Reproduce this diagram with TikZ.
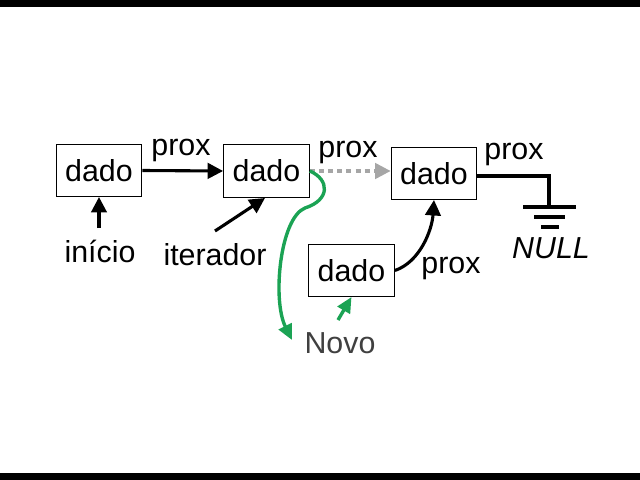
\documentclass[tikz,border=0pt]{standalone}
\usepackage{fontspec}
\setmainfont{Liberation Sans}
\usetikzlibrary{arrows.meta,positioning}
\definecolor{novogreen}{HTML}{1BA354}
\definecolor{linkgray}{HTML}{A6A6A6}
\definecolor{novotext}{HTML}{404040}
\tikzset{
  cell/.style   ={draw=black, line width=0.7pt, fill=white, minimum width=61pt,
                  minimum height=37pt, inner sep=0pt, font=\fontsize{21.6}{26}\selectfont},
  lbl/.style    ={font=\fontsize{21.6}{26}\selectfont, inner sep=0pt},
  lnk/.style    ={draw=black, line width=2.2pt, -{Triangle[length=11pt,width=11pt]}},
  dotlnk/.style ={draw=linkgray, line width=2.2pt, dash pattern=on 3.5pt off 3pt,
                  -{Triangle[length=11pt,width=11pt]}},
  newlnk/.style ={draw=novogreen, line width=2.4pt, -{Triangle[length=11pt,width=10pt]}},
  gnd/.style    ={draw=black, line width=2.6pt},
}
\begin{document}
\begin{tikzpicture}[x=0.025cm,y=-0.025cm]
  \useasboundingbox (0,0) rectangle (640,480);
  \fill[black] (0,0) rectangle (640,7);
  \fill[black] (0,473) rectangle (640,480);

  % list cells
  \node[cell] (d1) at (99,170.5) {dado};
  \node[cell] (d2) at (266.5,171) {dado};
  \node[cell] (d3) at (434,173.5) {dado};
  \node[cell] (d4) at (351.5,270.5) {dado};

  \node[lbl] (p1) at (181,150) {prox};
  \node[lbl] (p2) at (348,152) {prox};
  \node[lbl] (p3) at (514,154) {prox};
  \node[lbl] (p4) at (451,268) {prox};
  \node[lbl] (ini) at (100,251) {início};
  \node[lbl] (it) at (215,255) {iterador};
  \node[lbl] (nul) at (551,248) {\itshape NULL};
  \node[lbl, text=novotext] (nv) at (340,343) {Novo};

  % links
  \draw[lnk] (d1.east) -- (d2.west);
  \draw[dotlnk] (d2.east) -- (d2.east -| d3.west);
  \draw[lnk] (d4.east) .. controls (420,262) and (432,230) .. (d3.south);
  \draw[lnk] (99,228) -- (d1.south);
  \draw[lnk] (215,231) -- (265,198);
  \draw[newlnk] (338,320) -- (d4.south);
  \draw[newlnk] (d2.east) .. controls (330,180) and (330,200) .. (305,208)
        .. controls (280,218) and (272,300) .. (292,340);

  % NULL ground
  \coordinate (g0) at (549,207);
  \draw[gnd] (d3.east |- 0,176) -- (549,176) -- (g0);
  \draw[gnd] (523,207) -- (576,207);
  \draw[gnd] (534,217) -- (565,217);
  \draw[gnd] (541,227) -- (559,227);
\end{tikzpicture}
\end{document}
